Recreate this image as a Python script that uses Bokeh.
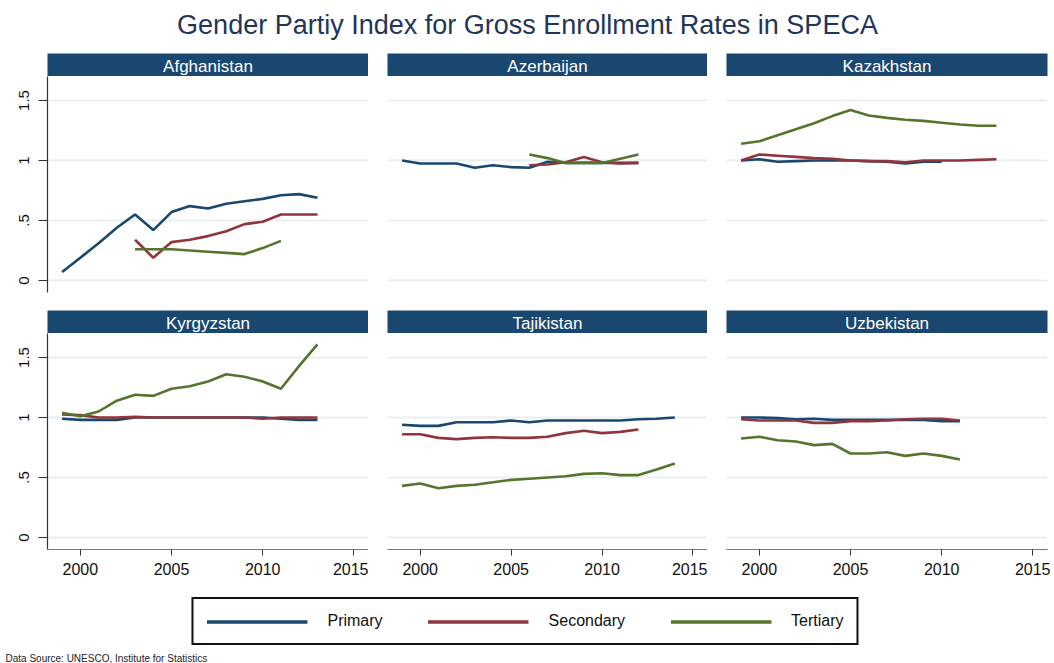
import numpy as np
from bokeh.plotting import figure
from bokeh.layouts import column, row
from bokeh.models import (Range1d, FixedTicker, Grid, CustomJSTickFormatter,
                          Legend, LegendItem, Label)
from bokeh.core.properties import value
from bokeh.embed import file_html
from bokeh.resources import INLINE

# ---------------- data ----------------
TITLE = "Gender Partiy Index for Gross Enrollment Rates in SPECA"
SOURCE = "Data Source: UNESCO, Institute for Statistics"
COUNTRIES = ["Afghanistan", "Azerbaijan", "Kazakhstan",
             "Kyrgyzstan", "Tajikistan", "Uzbekistan"]
SERIES = ["Primary", "Secondary", "Tertiary"]
YEARS = list(range(1999, 2015))
Y_TICKS = [0, 0.5, 1, 1.5]
X_TICKS = [2000, 2005, 2010, 2015]
N = None

AFG_PRIMARY = [0.07, 0.19, 0.31, 0.44, 0.55, 0.42, 0.57, 0.62, 0.60, 0.64, 0.66, 0.68, 0.71, 0.72, 0.69, N]
AFG_SECONDARY = [N, N, N, N, 0.34, 0.19, 0.32, 0.34, 0.37, 0.41, 0.47, 0.49, 0.55, 0.55, 0.55, N]
AFG_TERTIARY = [N, N, N, N, 0.26, 0.26, 0.26, 0.25, 0.24, 0.23, 0.22, 0.27, 0.33, N, N, N]

AZE_PRIMARY = [1.00, 0.975, 0.975, 0.975, 0.94, 0.96, 0.945, 0.94, 0.99, 0.98, 0.98, 0.98, 0.98, 0.98, N, N]
AZE_SECONDARY = [N, N, N, N, N, N, N, 0.96, 0.967, 0.985, 1.03, 0.985, 0.975, 0.98, N, N]
AZE_TERTIARY = [N, N, N, N, N, N, N, 1.05, 1.02, 0.98, 0.98, 0.98, 1.015, 1.05, N, N]

KAZ_PRIMARY = [1.00, 1.01, 0.99, 0.995, 1.00, 1.00, 1.00, 0.995, 0.99, 0.975, 0.99, 0.99, N, N, N, N]
KAZ_SECONDARY = [1.00, 1.05, 1.04, 1.03, 1.02, 1.015, 1.00, 0.995, 0.995, 0.985, 1.00, 1.00, 1.00, 1.005, 1.01, N]
KAZ_TERTIARY = [1.14, 1.16, 1.21, 1.26, 1.31, 1.37, 1.42, 1.375, 1.355, 1.34, 1.33, 1.315, 1.30, 1.29, 1.29, N]

KGZ_PRIMARY = [0.99, 0.98, 0.98, 0.98, 1.00, 1.00, 1.00, 1.00, 1.00, 1.00, 1.00, 1.00, 0.99, 0.98, 0.98, N]
KGZ_SECONDARY = [1.025, 1.02, 1.00, 1.00, 1.005, 1.00, 1.00, 1.00, 1.00, 1.00, 1.00, 0.99, 1.00, 1.00, 1.00, N]
KGZ_TERTIARY = [1.04, 1.01, 1.05, 1.14, 1.19, 1.18, 1.24, 1.26, 1.30, 1.36, 1.34, 1.30, 1.24, 1.43, 1.61, N]

TJK_PRIMARY = [0.94, 0.93, 0.93, 0.96, 0.96, 0.96, 0.975, 0.96, 0.975, 0.975, 0.975, 0.975, 0.975, 0.985, 0.99, 1.00]
TJK_SECONDARY = [0.86, 0.86, 0.83, 0.82, 0.83, 0.835, 0.83, 0.83, 0.84, 0.87, 0.89, 0.87, 0.88, 0.90, N, N]
TJK_TERTIARY = [0.43, 0.45, 0.41, 0.43, 0.44, 0.46, 0.48, 0.49, 0.50, 0.51, 0.53, 0.535, 0.52, 0.52, 0.567, 0.617]

UZB_PRIMARY = [1.00, 1.00, 0.995, 0.985, 0.99, 0.98, 0.98, 0.98, 0.98, 0.98, 0.98, 0.97, 0.97, N, N, N]
UZB_SECONDARY = [0.985, 0.975, 0.975, 0.975, 0.955, 0.955, 0.97, 0.97, 0.975, 0.985, 0.99, 0.99, 0.975, N, N, N]
UZB_TERTIARY = [0.825, 0.84, 0.81, 0.80, 0.77, 0.78, 0.70, 0.70, 0.71, 0.68, 0.70, 0.68, 0.65, N, N, N]

DATA = {
    "Afghanistan": [AFG_PRIMARY, AFG_SECONDARY, AFG_TERTIARY],
    "Azerbaijan": [AZE_PRIMARY, AZE_SECONDARY, AZE_TERTIARY],
    "Kazakhstan": [KAZ_PRIMARY, KAZ_SECONDARY, KAZ_TERTIARY],
    "Kyrgyzstan": [KGZ_PRIMARY, KGZ_SECONDARY, KGZ_TERTIARY],
    "Tajikistan": [TJK_PRIMARY, TJK_SECONDARY, TJK_TERTIARY],
    "Uzbekistan": [UZB_PRIMARY, UZB_SECONDARY, UZB_TERTIARY],
}

# ---------------- style ----------------
FONT = "Liberation Sans"
NAVY = "#1a476f"
COLORS = ["#1a476f", "#90353b", "#55752f"]
GRID_COLOR = "#e9f0f2"
TITLE_COLOR = "#1f3659"

COL_W = [368, 339, 343]
LEFT_B = [47, 19, 19]
RIGHT_B = [0, 0, 3]
TOTAL_W = sum(COL_W)
FRAME_H = 216
HEADER_H = 23
TITLE_H = 53
LEGEND_H = 74

common = dict(output_backend="svg", toolbar_location=None)


def make_header(name, c):
    h = figure(width=COL_W[c], height=HEADER_H,
               x_range=Range1d(0, 1), y_range=Range1d(0, 1),
               x_axis_location=None, y_axis_location=None,
               min_border_left=LEFT_B[c], min_border_right=RIGHT_B[c],
               min_border_top=0, min_border_bottom=0,
               background_fill_color=NAVY, outline_line_color=None, **common)
    h.grid.visible = False
    h.text(x=[0.5], y=[0.45], text=[name], text_align="center",
           text_baseline="middle", text_color="white",
           text_font=value(FONT), text_font_size="17px")
    return h


def make_panel(name, r, c):
    bottom = 18 if r == 0 else 40
    p = figure(width=COL_W[c], height=FRAME_H + bottom,
               x_range=Range1d(1998.2, 2015.8), y_range=Range1d(-0.1, 1.7),
               x_axis_location="below" if r == 1 else None,
               y_axis_location="left" if c == 0 else None,
               min_border_left=LEFT_B[c], min_border_right=RIGHT_B[c],
               min_border_top=0, min_border_bottom=bottom,
               outline_line_color=None, **common)
    p.grid.visible = False
    p.add_layout(Grid(dimension=1, ticker=FixedTicker(ticks=Y_TICKS),
                      grid_line_color=GRID_COLOR, grid_line_width=2))
    if c == 0:
        ax = p.yaxis[0]
        ax.ticker = FixedTicker(ticks=Y_TICKS)
        ax.formatter = CustomJSTickFormatter(code="""
            if (tick == 0) return "0";
            var s = tick.toString();
            return s.startsWith("0.") ? s.slice(1) : s;
        """)
        ax.major_label_orientation = "vertical"
        ax.major_tick_in = 0
        ax.major_tick_out = 9
        ax.minor_tick_line_color = None
        ax.axis_line_color = "#333333"
        ax.axis_line_width = 1.2
        ax.major_tick_line_color = "#333333"
        ax.major_label_standoff = 10
        ax.major_label_text_font = FONT
        ax.major_label_text_font_size = "15px"
        ax.major_label_text_color = "#111111"
    if r == 1:
        ax = p.xaxis[0]
        ax.ticker = FixedTicker(ticks=X_TICKS)
        ax.major_tick_in = 0
        ax.major_tick_out = 6
        ax.minor_tick_line_color = None
        ax.axis_line_color = "#777777"
        ax.axis_line_width = 1.2
        ax.major_tick_line_color = "#333333"
        ax.major_label_standoff = 7
        ax.major_label_text_font = FONT
        ax.major_label_text_font_size = "16px"
        ax.major_label_text_color = "#111111"
    x = np.array(YEARS, dtype=float)
    for vals, col in zip(DATA[name], COLORS):
        y = np.array([np.nan if v is None else v for v in vals], dtype=float)
        p.line(x, y, line_color=col, line_width=2.6)
    return p


# title
tf = figure(width=TOTAL_W, height=TITLE_H, x_range=Range1d(0, TOTAL_W),
            y_range=Range1d(0, TITLE_H), x_axis_location=None, y_axis_location=None,
            min_border=0, outline_line_color=None, **common)
tf.grid.visible = False
tf.text(x=[527], y=[TITLE_H - 24], text=[TITLE], text_align="center",
        text_baseline="middle", text_color=TITLE_COLOR,
        text_font=value(FONT), text_font_size="27px")

rows = []
for r in range(2):
    hdrs, pans = [], []
    for c in range(3):
        name = COUNTRIES[r * 3 + c]
        hdrs.append(make_header(name, c))
        pans.append(make_panel(name, r, c))
    rows.append(row(*hdrs, spacing=0))
    rows.append(row(*pans, spacing=0))

# legend
lf = figure(width=TOTAL_W, height=LEGEND_H, x_range=Range1d(0, TOTAL_W),
            y_range=Range1d(0, LEGEND_H), x_axis_location=None, y_axis_location=None,
            min_border=0, outline_line_color=None, **common)
lf.grid.visible = False
items = []
for nm, col in zip(SERIES, COLORS):
    rr = lf.line(x=[-50, -40], y=[-50, -50], line_color=col, line_width=3.5)
    items.append(LegendItem(label=nm, renderers=[rr]))
legend = Legend(items=items, orientation="horizontal", location="top_center",
                margin=8, padding=13, spacing=45, glyph_width=101,
                glyph_height=17, label_height=17, label_standoff=20,
                label_text_font=FONT, label_text_font_size="16px",
                label_text_color="#111111",
                border_line_color="#111111", border_line_width=2,
                border_line_alpha=1.0,
                background_fill_color="white", background_fill_alpha=1.0)
lf.add_layout(legend)
lf.add_layout(Label(x=5, y=0, text=SOURCE, text_font=FONT,
                    text_font_size="10px", text_color="#222222",
                    text_baseline="bottom", text_align="left"))

layout = column(tf, *rows, lf, spacing=0)

open("out.html", "w").write(file_html(layout, INLINE))
